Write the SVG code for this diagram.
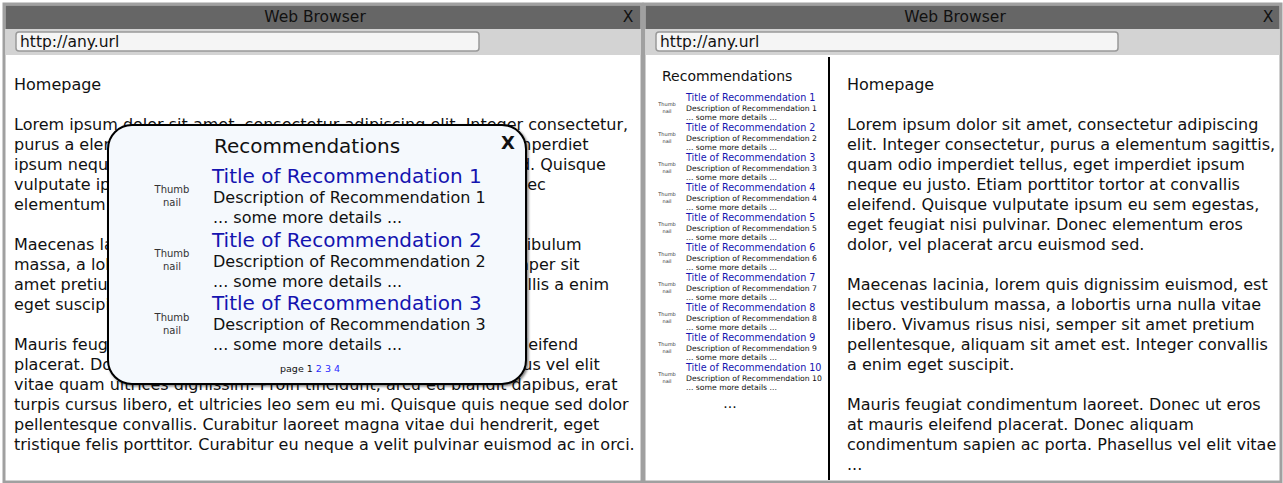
<svg xmlns="http://www.w3.org/2000/svg" width="1283" height="483" viewBox="0 0 1283 483">
<style>
text{font-family:"DejaVu Sans",sans-serif;fill:#111}
.frame{fill:#fff;stroke:#a0a0a0;stroke-width:3}
.bar{fill:#666}
.urlbar{fill:#d3d3d3}
.url{fill:#f5f5f5;stroke:#999;stroke-width:1.5}
.t15{font-size:15.5px}
.body{font-size:16px}
.link{fill:#1414b0}
.thumb{fill:#333;text-anchor:middle}
</style>
<defs>
<filter id="sh" x="-5%" y="-5%" width="115%" height="115%"><feDropShadow dx="1.5" dy="1.5" stdDeviation="0.8" flood-color="#000" flood-opacity="0.5"/></filter>
</defs>

<g id="browser-left">
<rect class="frame" x="4" y="4" width="638" height="478"/>
<rect class="bar" x="5.5" y="5.5" width="635" height="23.5"/>
<rect class="urlbar" x="5.5" y="29" width="635" height="26"/>
<text class="t15" x="315" y="22" text-anchor="middle">Web Browser</text>
<text class="t15" x="628" y="22" text-anchor="middle">X</text>
<rect class="url" x="16" y="32" width="463" height="19" rx="3"/>
<text class="t15" x="20" y="47">http://any.url</text>
<g class="body">
<text x="14" y="90">Homepage</text>
<text x="14" y="130">Lorem ipsum dolor sit amet, consectetur adipiscing elit. Integer consectetur,</text>
<text x="14" y="150">purus a elementum sagittis, quam odio imperdiet tellus, eget imperdiet</text>
<text x="14" y="170">ipsum neque eu justo. Etiam porttitor tortor at convallis eleifend. Quisque</text>
<text x="14" y="190">vulputate ipsum eu sem egestas, eget feugiat nisi pulvinar. Donec</text>
<text x="14" y="210">elementum eros dolor, vel placerat arcu euismod sed.</text>
<text x="14" y="250">Maecenas lacinia, lorem quis dignissim euismod, est lectus vestibulum</text>
<text x="14" y="270">massa, a lobortis urna nulla vitae libero. Vivamus risus nisi, semper sit</text>
<text x="14" y="290">amet pretium pellentesque, aliquam sit amet est. Integer convallis a enim</text>
<text x="14" y="310">eget suscipit.</text>
<text x="14" y="350">Mauris feugiat condimentum laoreet. Donec ut eros at mauris eleifend</text>
<text x="14" y="370">placerat. Donec aliquam condimentum sapien ac porta. Phasellus vel elit</text>
<text x="14" y="390">vitae quam ultrices dignissim. Proin tincidunt, arcu eu blandit dapibus, erat</text>
<text x="14" y="410">turpis cursus libero, et ultricies leo sem eu mi. Quisque quis neque sed dolor</text>
<text x="14" y="430">pellentesque convallis. Curabitur laoreet magna vitae dui hendrerit, eget</text>
<text x="14" y="450">tristique felis porttitor. Curabitur eu neque a velit pulvinar euismod ac in orci.</text>
</g>
</g>

<g id="popup">
<rect x="108" y="125" width="418" height="259" rx="24" fill="#f5f9fd" stroke="#000" stroke-width="2" filter="url(#sh)"/>
<text x="307" y="153" font-size="20" text-anchor="middle">Recommendations</text>
<text x="508" y="149" font-size="18" font-weight="bold" text-anchor="middle">X</text>
<g font-size="10">
<text class="thumb" x="172" y="193">Thumb</text><text class="thumb" x="172" y="206">nail</text>
<text class="thumb" x="172" y="257">Thumb</text><text class="thumb" x="172" y="270">nail</text>
<text class="thumb" x="172" y="321">Thumb</text><text class="thumb" x="172" y="334">nail</text>
</g>
<text class="link" x="212" y="183" font-size="20">Title of Recommendation 1</text>
<text class="body" x="213" y="203">Description of Recommendation 1</text>
<text class="body" x="213" y="223">... some more details ...</text>
<text class="link" x="212" y="247" font-size="20">Title of Recommendation 2</text>
<text class="body" x="213" y="267">Description of Recommendation 2</text>
<text class="body" x="213" y="287">... some more details ...</text>
<text class="link" x="212" y="310" font-size="20">Title of Recommendation 3</text>
<text class="body" x="213" y="330">Description of Recommendation 3</text>
<text class="body" x="213" y="350">... some more details ...</text>
<text x="310" y="372" font-size="9.5" text-anchor="middle">page 1 <tspan fill="#2a2aff">2 3 4</tspan></text>
</g>

<g id="browser-right">
<rect class="frame" x="644" y="4" width="637" height="478"/>
<rect class="bar" x="645.5" y="5.5" width="634" height="23.5"/>
<rect class="urlbar" x="645.5" y="29" width="634" height="26"/>
<text class="t15" x="955" y="22" text-anchor="middle">Web Browser</text>
<text class="t15" x="1268" y="22" text-anchor="middle">X</text>
<rect class="url" x="656" y="32" width="462" height="19" rx="3"/>
<text class="t15" x="660" y="47">http://any.url</text>
<g class="body">
<text x="847" y="90">Homepage</text>
<text x="847" y="130">Lorem ipsum dolor sit amet, consectetur adipiscing</text>
<text x="847" y="150">elit. Integer consectetur, purus a elementum sagittis,</text>
<text x="847" y="170">quam odio imperdiet tellus, eget imperdiet ipsum</text>
<text x="847" y="190">neque eu justo. Etiam porttitor tortor at convallis</text>
<text x="847" y="210">eleifend. Quisque vulputate ipsum eu sem egestas,</text>
<text x="847" y="230">eget feugiat nisi pulvinar. Donec elementum eros</text>
<text x="847" y="250">dolor, vel placerat arcu euismod sed.</text>
<text x="847" y="290">Maecenas lacinia, lorem quis dignissim euismod, est</text>
<text x="847" y="310">lectus vestibulum massa, a lobortis urna nulla vitae</text>
<text x="847" y="330">libero. Vivamus risus nisi, semper sit amet pretium</text>
<text x="847" y="350">pellentesque, aliquam sit amet est. Integer convallis</text>
<text x="847" y="370">a enim eget suscipit.</text>
<text x="847" y="410">Mauris feugiat condimentum laoreet. Donec ut eros</text>
<text x="847" y="430">at mauris eleifend placerat. Donec aliquam</text>
<text x="847" y="450">condimentum sapien ac porta. Phasellus vel elit vitae</text>
<text x="847" y="470">...</text>
</g>
</g>

<g id="sidebar">
<line x1="829" y1="57" x2="829" y2="480" stroke="#000" stroke-width="2"/>
<text x="662" y="81" font-size="14">Recommendations</text>
<g font-size="5">
<text class="thumb" x="667" y="106">Thumb</text><text class="thumb" x="667" y="113">nail</text>
<text class="thumb" x="667" y="136">Thumb</text><text class="thumb" x="667" y="143">nail</text>
<text class="thumb" x="667" y="166">Thumb</text><text class="thumb" x="667" y="173">nail</text>
<text class="thumb" x="667" y="196">Thumb</text><text class="thumb" x="667" y="203">nail</text>
<text class="thumb" x="667" y="226">Thumb</text><text class="thumb" x="667" y="233">nail</text>
<text class="thumb" x="667" y="256">Thumb</text><text class="thumb" x="667" y="263">nail</text>
<text class="thumb" x="667" y="286">Thumb</text><text class="thumb" x="667" y="293">nail</text>
<text class="thumb" x="667" y="316">Thumb</text><text class="thumb" x="667" y="323">nail</text>
<text class="thumb" x="667" y="346">Thumb</text><text class="thumb" x="667" y="353">nail</text>
<text class="thumb" x="667" y="376">Thumb</text><text class="thumb" x="667" y="383">nail</text>
</g>
<g font-size="9.6">
<text class="link" x="686" y="101">Title of Recommendation 1</text>
<text class="link" x="686" y="131">Title of Recommendation 2</text>
<text class="link" x="686" y="161">Title of Recommendation 3</text>
<text class="link" x="686" y="191">Title of Recommendation 4</text>
<text class="link" x="686" y="221">Title of Recommendation 5</text>
<text class="link" x="686" y="251">Title of Recommendation 6</text>
<text class="link" x="686" y="281">Title of Recommendation 7</text>
<text class="link" x="686" y="311">Title of Recommendation 8</text>
<text class="link" x="686" y="341">Title of Recommendation 9</text>
<text class="link" x="686" y="371">Title of Recommendation 10</text>
</g>
<g font-size="7.7">
<text x="686" y="111">Description of Recommendation 1</text><text x="686" y="120">... some more details ...</text>
<text x="686" y="141">Description of Recommendation 2</text><text x="686" y="150">... some more details ...</text>
<text x="686" y="171">Description of Recommendation 3</text><text x="686" y="180">... some more details ...</text>
<text x="686" y="201">Description of Recommendation 4</text><text x="686" y="210">... some more details ...</text>
<text x="686" y="231">Description of Recommendation 5</text><text x="686" y="240">... some more details ...</text>
<text x="686" y="261">Description of Recommendation 6</text><text x="686" y="270">... some more details ...</text>
<text x="686" y="291">Description of Recommendation 7</text><text x="686" y="300">... some more details ...</text>
<text x="686" y="321">Description of Recommendation 8</text><text x="686" y="330">... some more details ...</text>
<text x="686" y="351">Description of Recommendation 9</text><text x="686" y="360">... some more details ...</text>
<text x="686" y="381">Description of Recommendation 10</text><text x="686" y="390">... some more details ...</text>
</g>
<text x="730" y="408" font-size="14" text-anchor="middle">...</text>
</g>
</svg>
